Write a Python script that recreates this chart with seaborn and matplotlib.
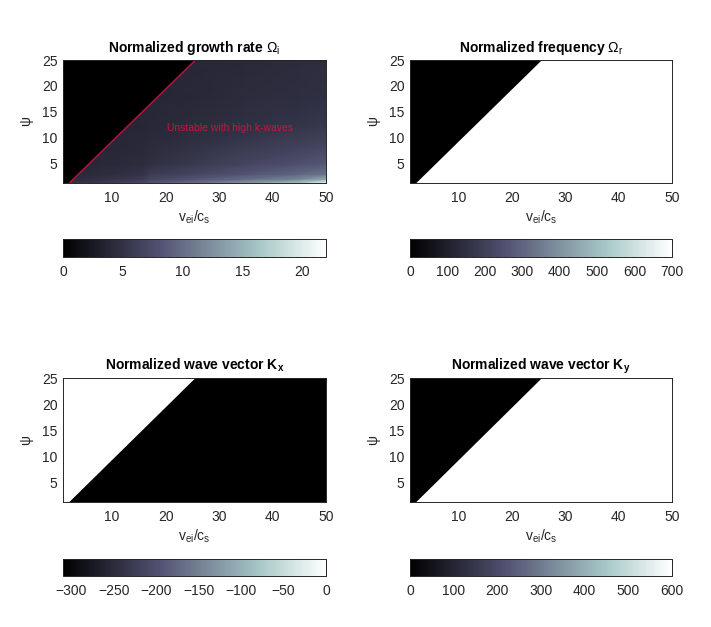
import numpy as np
import matplotlib
matplotlib.use("Agg")
import matplotlib.pyplot as plt
import seaborn as sns
from matplotlib.colors import Normalize
from matplotlib.cm import ScalarMappable

# ---------------- data ----------------
v_range = [0.8, 50.0]          # v_ei / c_s axis extent
psi_range = [1.3, 25.0]        # psi axis extent
x_ticks = [10, 20, 30, 40, 50]
y_ticks = [5, 10, 15, 20, 25]

# marginal-stability boundary (stable region lies above/left of it)
boundary_v = [2.0, 25.6]
boundary_psi = [1.3, 25.0]

# growth rate Omega_i in the unstable region (coarse table)
growth_v = [0.8, 5, 10, 16, 17, 25, 35, 45, 50]
growth_psi = [1.3, 2, 3, 5, 8, 12, 18, 25]
growth_vals = [
    [4.5, 5.2, 6.0, 7.2, 8.0, 10.0, 13.0, 16.0, 21.0],  # psi = 1.3
    [4.2, 4.6, 5.2, 6.0, 6.8, 8.2, 10.0, 12.0, 14.5],   # psi = 2
    [4.0, 4.2, 4.6, 5.2, 5.8, 6.8, 8.2, 9.5, 10.5],     # psi = 3
    [3.8, 3.9, 4.1, 4.5, 4.8, 5.6, 6.8, 7.8, 8.4],      # psi = 5
    [3.7, 3.8, 3.9, 4.1, 4.3, 4.9, 5.8, 6.6, 7.0],      # psi = 8
    [3.6, 3.7, 3.8, 3.9, 4.0, 4.3, 4.8, 5.3, 5.6],      # psi = 12
    [3.6, 3.6, 3.7, 3.8, 3.8, 4.0, 4.3, 4.6, 4.8],      # psi = 18
    [3.6, 3.6, 3.6, 3.7, 3.7, 3.9, 4.1, 4.3, 4.4],      # psi = 25
]
growth_stable = 0.0
growth_clim = [0, 22]
growth_cticks = [0, 5, 10, 15, 20]

freq_stable, freq_unstable = 0, 700
freq_clim = [0, 700]
freq_cticks = [0, 100, 200, 300, 400, 500, 600, 700]

kx_stable, kx_unstable = 0, -310
kx_clim = [-310, 0]
kx_cticks = [-300, -250, -200, -150, -100, -50, 0]

ky_stable, ky_unstable = 0, 600
ky_clim = [0, 600]
ky_cticks = [0, 100, 200, 300, 400, 500, 600]

region_label = "Unstable with high k-waves"
region_label_pos = [32.1, 11.9]

# ---------------- style ----------------
sns.set_theme(style="white")
plt.rcParams["font.family"] = ["Liberation Sans", "DejaVu Sans"]
plt.rcParams["mathtext.fontset"] = "custom"
plt.rcParams["mathtext.rm"] = "Liberation Sans"
plt.rcParams["mathtext.it"] = "Liberation Sans:italic"
plt.rcParams["mathtext.bf"] = "Liberation Sans:bold"

W, H = 711, 627
fig = plt.figure(figsize=(W / 100, H / 100), dpi=100)
cmap = plt.get_cmap("bone")
txt_col = "#262626"


def frac(l, t, r, b):
    return [l / W, 1 - b / H, (r - l) / W, (b - t) / H]


panels = [
    dict(kind="growth", title=r"Normalized growth rate $\Omega_{\mathrm{i}}$",
         clim=growth_clim, cticks=growth_cticks,
         pos=frac(63, 60, 326, 183), cpos=frac(63, 239, 326, 257)),
    dict(kind="const", title=r"Normalized frequency $\Omega_{\mathrm{r}}$",
         stable=freq_stable, unstable=freq_unstable,
         clim=freq_clim, cticks=freq_cticks,
         pos=frac(410, 60, 672, 183), cpos=frac(410, 239, 672, 257)),
    dict(kind="const", title=r"Normalized wave vector K$_{\mathbf{x}}$",
         stable=kx_stable, unstable=kx_unstable,
         clim=kx_clim, cticks=kx_cticks,
         pos=frac(63, 378, 326, 502), cpos=frac(63, 559, 326, 576)),
    dict(kind="const", title=r"Normalized wave vector K$_{\mathbf{y}}$",
         stable=ky_stable, unstable=ky_unstable,
         clim=ky_clim, cticks=ky_cticks,
         pos=frac(410, 378, 672, 502), cpos=frac(410, 559, 672, 576)),
]

stable_poly_v = [v_range[0], boundary_v[0], boundary_v[1], v_range[0]]
stable_poly_psi = [psi_range[0], boundary_psi[0], boundary_psi[1], psi_range[1]]

for p in panels:
    ax = fig.add_axes(p["pos"])
    norm = Normalize(vmin=p["clim"][0], vmax=p["clim"][1])
    if p["kind"] == "growth":
        ax.pcolormesh(growth_v, growth_psi, np.array(growth_vals),
                      shading="gouraud", cmap=cmap, norm=norm, zorder=1)
        ax.fill(stable_poly_v, stable_poly_psi, color=cmap(norm(growth_stable)),
                lw=0, zorder=2)
        sns.lineplot(x=boundary_v, y=boundary_psi, ax=ax, color="#b8123a",
                     lw=1.1, zorder=3)
        ax.text(region_label_pos[0], region_label_pos[1], region_label,
                color="#c8163a", fontsize=7.5, ha="center", va="center", zorder=4)
    else:
        ax.pcolormesh(v_range, psi_range, np.array([[p["unstable"]]]),
                      shading="flat", cmap=cmap, norm=norm, zorder=1)
        ax.fill(stable_poly_v, stable_poly_psi, color=cmap(norm(p["stable"])),
                lw=0, zorder=2)
    ax.set_xlim(v_range)
    ax.set_ylim(psi_range)
    ax.set_xticks(x_ticks)
    ax.set_yticks(y_ticks)
    ax.tick_params(direction="in", top=True, right=True, length=3, width=0.6,
                   labelsize=10, labelcolor=txt_col, color=txt_col)
    ax.tick_params(axis="x", pad=6)
    ax.tick_params(axis="y", pad=4)
    for s in ax.spines.values():
        s.set_linewidth(0.7)
        s.set_color(txt_col)
        s.set_zorder(5)
    ax.set_xlabel(r"$\mathregular{v_{ei}/c_s}$", fontsize=10, color=txt_col,
                  labelpad=2)
    ax.set_ylabel("ψ", fontsize=10, color=txt_col, labelpad=6)
    ax.set_title(p["title"], fontsize=10, fontweight="bold", color="black", pad=6)

    cax = fig.add_axes(p["cpos"])
    sm = ScalarMappable(norm=norm, cmap=cmap)
    cb = fig.colorbar(sm, cax=cax, orientation="horizontal")
    cb.set_ticks(p["cticks"])
    cax.tick_params(direction="in", top=True, bottom=True, length=3, width=0.6,
                    labelsize=10, labelcolor=txt_col, color=txt_col, pad=6)
    cb.outline.set_linewidth(0.7)
    cb.outline.set_edgecolor(txt_col)

fig.savefig("out.png", dpi=100)
